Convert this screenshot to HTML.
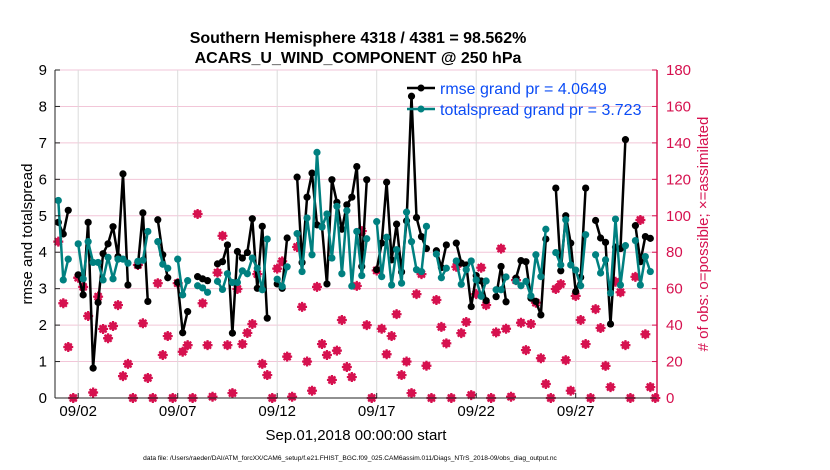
<!DOCTYPE html>
<html><head><meta charset="utf-8"><style>
body{margin:0;background:#fff;}
svg{display:block;font-family:"Liberation Sans",Arial,sans-serif;}
</style></head><body>
<svg id="chart" width="830" height="470" viewBox="0 0 830 470">
<text x="358" y="43" font-size="16" font-weight="bold" text-anchor="middle">Southern Hemisphere 4318 / 4381 = 98.562%</text>
<text x="358" y="63" font-size="16" font-weight="bold" text-anchor="middle">ACARS_U_WIND_COMPONENT @ 250 hPa</text>
<g id="grid"></g>
<g id="obs"></g>
<g id="series"></g>
<g id="axes"></g>
<text transform="translate(32,234) rotate(-90)" font-size="15" text-anchor="middle">rmse and totalspread</text>
<text transform="translate(708,234) rotate(-90)" font-size="15" fill="#d6114f" text-anchor="middle"># of obs: o=possible; ×=assimilated</text>
<text x="356" y="440" font-size="15" text-anchor="middle">Sep.01,2018 00:00:00 start</text>
<text x="350" y="460" font-size="6.6" text-anchor="middle">data file: /Users/raeder/DAI/ATM_forcXX/CAM6_setup/f.e21.FHIST_BGC.f09_025.CAM6assim.011/Diags_NTrS_2018-09/obs_diag_output.nc</text>
<g>
<line x1="407" y1="88" x2="435" y2="88" stroke="#000" stroke-width="2.5"/>
<circle cx="421" cy="88" r="3.5" fill="#000"/>
<text x="440" y="94" font-size="16" fill="#0b4cf5">rmse grand pr = 4.0649</text>
<line x1="407" y1="109" x2="435" y2="109" stroke="#008080" stroke-width="2.5"/>
<circle cx="421" cy="109" r="3.5" fill="#008080"/>
<text x="440" y="115" font-size="16" fill="#0b4cf5">totalspread grand pr = 3.723</text>
</g>
</svg>
<script>
const rmse=[4.82,4.5,5.15,null,3.38,2.83,4.82,0.82,2.62,3.96,4.23,4.7,3.88,6.15,3.1,null,3.63,5.08,2.65,null,4.89,3.93,3.3,null,3.17,1.79,2.37,null,3.33,3.27,3.22,null,3.68,3.74,4.2,1.78,4.02,3.84,3.99,4.92,3.01,4.71,2.19,null,3.13,3.01,4.39,null,6.06,3.72,5.51,6.17,4.75,4.7,3.13,5.99,5.37,4.63,5.3,5.51,6.35,3.61,5.99,null,3.52,4.25,5.92,3.79,4.77,3.46,4.86,8.28,4.95,4.43,4.1,null,4.04,3.58,4.2,null,4.25,3.7,3.65,2.51,3.36,3.21,2.67,null,2.78,3.61,2.64,null,3.29,3.77,3.74,2.74,2.65,2.28,4.36,null,5.76,3.49,5.0,4.25,2.92,3.31,5.76,null,4.87,4.39,4.27,2.03,4.14,4.1,7.09,null,4.73,3.74,4.43,4.38,null];
const spread=[5.42,3.24,3.81,null,4.23,3.27,4.29,3.72,3.72,3.24,3.86,3.27,3.81,3.81,3.7,null,3.75,3.78,4.57,null,4.29,3.67,3.56,null,3.81,2.83,3.22,null,3.08,3.02,2.9,null,3.2,2.98,3.41,3.17,3.17,3.49,3.41,3.84,3.56,2.97,4.36,null,3.26,3.06,3.6,null,4.51,3.47,4.94,3.93,6.74,4.69,5.05,3.84,5.26,3.41,5.14,3.07,4.57,3.36,4.37,null,4.84,3.33,4.41,3.1,4.07,3.15,5.1,4.29,3.52,3.47,4.71,null,3.95,3.3,3.56,null,3.76,3.12,3.52,3.76,3.24,2.79,3.21,null,2.97,2.97,3.32,null,3.2,3.08,3.2,2.8,3.93,3.33,4.63,null,3.99,3.65,4.89,3.65,3.51,3.08,4.48,null,3.93,3.43,3.79,2.88,4.91,3.1,4.18,null,4.32,3.1,3.88,3.47,null];
const obs=[85.8,52,28,0,66,61,45,3,55.6,37.9,32.8,39.5,51,12,18.7,0,73,41,11,0,63,23.6,34,0,63,25.4,29,0,101,52,29,0.7,68.8,89,29,2.7,59.8,29.6,35.7,40.6,68,18.7,12.6,0,71,75,22.7,0.7,82.9,50,20,4,61,29.6,23.6,9.9,26,42.8,17,11.5,61.5,91.6,40,0,70,38,24,34,46,12.6,20,2.7,57,68,17.7,0,53.8,39,30,0,72,35.6,41.7,1.6,57,71.5,51,0,36,82,38,0.7,64.7,41.3,26.3,40.6,52.3,21.8,7.7,0,59.8,62.5,20.8,4,56,42.8,29.6,0,48.8,38.4,17.6,6,63.8,58,29,0,66.5,97.7,35,6,0];
const leftTicks=[0,1,2,3,4,5,6,7,8,9];
const rightTicks=[0,20,40,60,80,100,120,140,160,180];
const xTickLabels=["09/02","09/07","09/12","09/17","09/22","09/27"];
const xTickHours=[24,144,264,384,504,624];
const stepHours=6;

const X0=55,X1=657,Y0=398,Y1=70;
const xs=h=>58.3+h*4.975/6;
const yl=v=>Y0-(v/9)*(Y0-Y1);
const yr=v=>Y0-(v/180)*(Y0-Y1);
const NS="http://www.w3.org/2000/svg";
function mk(tag,attrs,parent){const e=document.createElementNS(NS,tag);for(const k in attrs)e.setAttribute(k,attrs[k]);parent.appendChild(e);return e;}
const grid=document.getElementById('grid'),axes=document.getElementById('axes'),ser=document.getElementById('series'),obsG=document.getElementById('obs');

leftTicks.forEach(v=>{
  const g=mk('line',{x1:X0,x2:X1,y1:yl(v),y2:yl(v),stroke:'#f2c6d8','stroke-width':1},grid);
  
  
  const t=mk('text',{x:X0-8,y:yl(v)+5,'font-size':15,'text-anchor':'end'},axes);
  t.textContent=v;
  
  
  mk('line',{x1:X0,x2:X0+5,y1:yl(v),y2:yl(v),stroke:'#222'},axes);
});
rightTicks.forEach(v=>{
  const t=mk('text',{x:X1+9,y:yr(v)+5,'font-size':15,fill:'#d6114f'},axes);
  t.textContent=v;
  
  
  mk('line',{x1:X1-5,x2:X1,y1:yr(v),y2:yr(v),stroke:'#d6114f'},axes);
});
xTickHours.forEach((h,i)=>{
  const g=mk('line',{x1:xs(h),x2:xs(h),y1:Y1,y2:Y0,stroke:'#dcdcdc','stroke-width':1},grid);
  
  
  mk('line',{x1:xs(h),x2:xs(h),y1:Y0,y2:Y0-5,stroke:'#222'},axes);
  const t=mk('text',{x:xs(h),y:Y0+18,'font-size':15,'text-anchor':'middle'},axes);
  t.textContent=xTickLabels[i];
  
  
});
mk('line',{x1:X0,x2:X1,y1:Y0,y2:Y0,stroke:'#222','stroke-width':1},axes);
mk('line',{x1:X0,x2:X0,y1:Y1,y2:Y0,stroke:'#222','stroke-width':1},axes);
mk('line',{x1:X1,x2:X1,y1:Y1,y2:Y0,stroke:'#d6114f','stroke-width':1.5},axes);

obs.forEach((v,i)=>{
  if(v==null)return;
  const cx=xs(i*stepHours),cy=yr(v);
  const g=mk('g',{},obsG);
  
  
  mk('circle',{cx:cx,cy:cy,r:3.2,fill:'none',stroke:'#d6114f','stroke-width':1.5},g);
  mk('path',{d:`M${cx-5} ${cy}H${cx+5}M${cx} ${cy-5}V${cy+5}M${cx-3.5} ${cy-3.5}L${cx+3.5} ${cy+3.5}M${cx-3.5} ${cy+3.5}L${cx+3.5} ${cy-3.5}`,stroke:'#d6114f','stroke-width':2.2},g);
});

function drawSeries(arr,color,name){
  let d='',pen=false;
  arr.forEach((v,i)=>{
    if(v==null){pen=false;return;}
    d+=(pen?'L':'M')+xs(i*stepHours).toFixed(1)+' '+yl(v).toFixed(1);pen=true;
  });
  const p=mk('path',{d:d,fill:'none',stroke:color,'stroke-width':2.5,'stroke-linejoin':'round'},ser);
  
  
  arr.forEach((v,i)=>{
    if(v==null)return;
    const c=mk('circle',{cx:xs(i*stepHours),cy:yl(v),r:3.6,fill:color},ser);
    
    
  });
}
drawSeries(rmse,'#000','rmse');
drawSeries(spread,'#008080','totalspread');
</script>
</body></html>
